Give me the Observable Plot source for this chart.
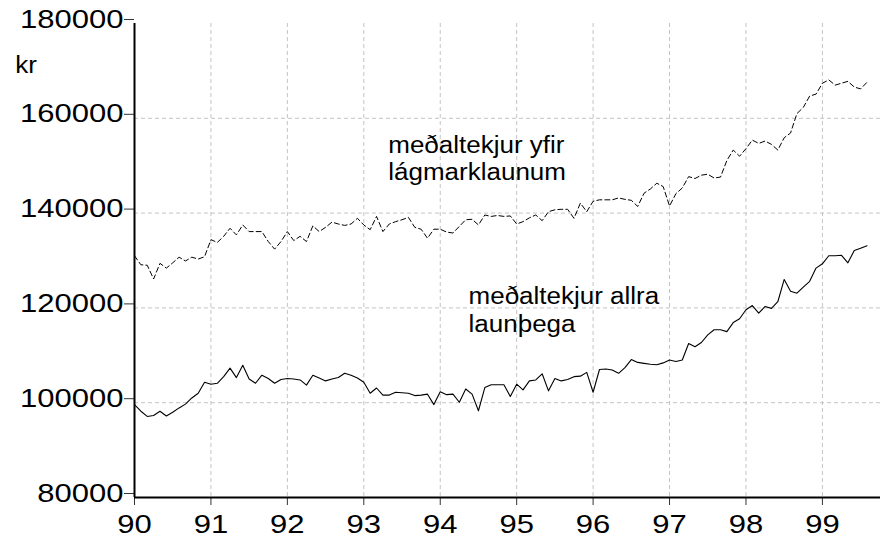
<!DOCTYPE html>
<html>
<head>
<meta charset="utf-8">
<script src="https://cdn.jsdelivr.net/npm/d3@7"></script>
<script src="https://cdn.jsdelivr.net/npm/@observablehq/plot@0.6"></script>
<style>
  html, body { margin: 0; padding: 0; background: #fff; }
  svg { display: block; }
</style>
</head>
<body>
<script>
// Monthly series starting January 1990
const startYear = 1990;

// meðaltekjur allra launþega (solid line)
const allra = [
  99600, 98200, 97100, 97300, 98200, 97200, 98000, 98900, 99700, 101000, 102000, 104300,
  103900, 104100, 105500, 107300, 105300, 107900, 105000, 104100, 105800, 105100, 104100, 104900,
  105100, 105000, 104800, 103700, 105800, 105200, 104600, 105000, 105300, 106200, 105800, 105200,
  104300, 102000, 103100, 101600, 101600, 102200, 102100, 102000, 101500, 101600, 101800, 99600,
  102300, 101700, 101800, 100100, 102900, 101800, 98300, 103200, 103800, 103800, 103800, 101300,
  103900, 102700, 104600, 104800, 106100, 102500, 105100, 104600, 104900, 105500, 105600, 106400,
  102200, 107000, 107100, 106900, 106200, 107400, 109100, 108500, 108300, 108100, 108000, 108400,
  109000, 108700, 109000, 112500, 111800, 112700, 114300, 115400, 115400, 115000, 116900, 117700,
  119600, 120500, 118900, 120300, 119900, 121300, 126000, 123500, 123100, 124400, 125600, 128400,
  129300, 131000, 131000, 131100, 129500, 132100, 132600, 133100
];

// meðaltekjur yfir lágmarklaunum (dashed line)
const yfir = [
  131000, 129100, 129000, 126100, 129400, 128400, 129500, 130700, 129900, 130700, 130300, 130800,
  134400, 133800, 135100, 136800, 135400, 137500, 136100, 136100, 136100, 134000, 132400, 134000,
  136100, 134200, 135100, 134000, 137300, 136100, 137000, 138100, 137700, 137400, 137700, 138900,
  137500, 136500, 139300, 136100, 137700, 138200, 138600, 139100, 137000, 136600, 134700, 136600,
  136600, 136000, 135800, 137200, 138600, 138700, 137500, 139600, 139300, 139500, 139300, 139400,
  137700, 138200, 139000, 139600, 138400, 140300, 140700, 140800, 140800, 138900, 142100, 140300,
  142500, 142800, 142800, 142800, 143200, 142900, 142700, 141400, 144200, 145100, 146300, 145600,
  141500, 144100, 145300, 147700, 147300, 148000, 148200, 147400, 147600, 151100, 153300, 152000,
  153600, 155400, 154700, 155200, 154500, 153300, 155900, 156900, 161000, 162300, 164700, 165100,
  167400, 168100, 167000, 167400, 167800, 166600, 166200, 167600
];

const yearTicks = [1990, 1991, 1992, 1993, 1994, 1995, 1996, 1997, 1998, 1999];
const gridYears = [1991, 1992, 1993, 1994, 1995, 1996, 1997, 1998, 1999];
const yTicks = [80000, 100000, 120000, 140000, 160000, 180000];
const gridValues = [100000, 120000, 140000, 160000];

const annotations = [
  {x: 1993.32, y: 156200, text: "meðaltekjur yfir"},
  {x: 1993.32, y: 150460, text: "lágmarklaunum"},
  {x: 1994.37, y: 124370, text: "meðaltekjur allra"},
  {x: 1994.37, y: 118460, text: "launþega"}
];
const unitLabel = [{x: 1988.44, y: 173100, text: "kr"}];

const toRows = arr => arr.map((v, i) => ({t: startYear + i / 12, v}));

const chart = Plot.plot({
  width: 885,
  height: 538,
  marginLeft: 134,
  marginRight: 5,
  marginTop: 23,
  marginBottom: 41,
  style: {fontFamily: "'Liberation Sans', Arial, sans-serif", fontSize: "25px", background: "#fff", color: "#000"},
  x: {domain: [1990, 1999.76]},
  y: {domain: [80000, 180000]},
  marks: [
    Plot.ruleY(gridValues, {stroke: "#c4c4c4", strokeWidth: 1, strokeDasharray: "4,3"}),
    Plot.ruleX(gridYears, {stroke: "#c4c4c4", strokeWidth: 1, strokeDasharray: "4,3"}),
    Plot.axisY({ticks: yTicks, tickFormat: d => String(d), tickSize: 10, tickPadding: 1, dy: -4, stroke: "#333", fontSize: 25}),
    Plot.axisX({ticks: yearTicks, tickFormat: d => String(d).slice(2), tickSize: 8, tickPadding: 10, stroke: "#333", fontSize: 25}),
    Plot.line(toRows(yfir), {x: "t", y: "v", stroke: "#000", strokeWidth: 1, strokeDasharray: "5,3"}),
    Plot.line(toRows(allra), {x: "t", y: "v", stroke: "#000", strokeWidth: 1.1}),
    Plot.ruleX([1990], {stroke: "#000", strokeWidth: 2}),
    Plot.ruleY([80000], {stroke: "#000", strokeWidth: 2}),
    Plot.text(annotations, {x: "x", y: "y", text: "text", textAnchor: "start", lineAnchor: "top", fontSize: 23, fill: "#000"}),
    Plot.text(unitLabel, {x: "x", y: "y", text: "text", textAnchor: "start", lineAnchor: "top", fontSize: 23, fill: "#000"})
  ]
});

document.body.append(chart);

// Stretch text horizontally to match the wide lettering of the original
chart.querySelectorAll("text").forEach(t => {
  const g = t.closest("g[aria-label]");
  const label = g ? g.getAttribute("aria-label") : "";
  const k = /tick label/.test(label) ? 1.24 : 1.13;
  const len = t.getComputedTextLength();
  if (len > 0) {
    t.setAttribute("textLength", (len * k).toFixed(1));
    t.setAttribute("lengthAdjust", "spacingAndGlyphs");
  }
});
</script>
</body>
</html>
